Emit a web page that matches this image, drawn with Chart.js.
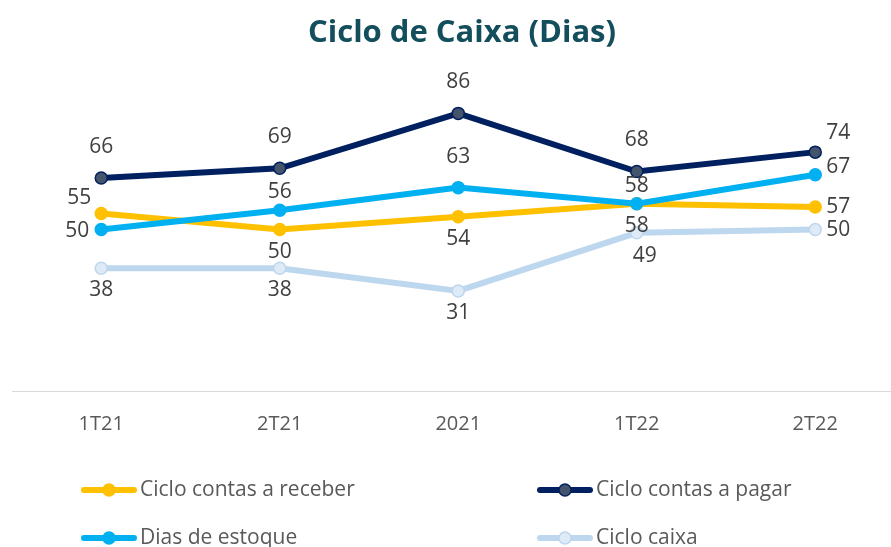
<!DOCTYPE html>
<html lang="pt">
<head>
    <script src="https://cdn.jsdelivr.net/npm/chart.js"></script>
    <style>
        body { margin: 0; background: #fff; overflow: hidden; }
        #wrap { width: 912px; height: 547px; }
    </style>
</head>
<body>

    <div id="wrap"><canvas id="cicloChart" width="912" height="547"></canvas></div>

    <script>
        // Data
        const periods = ["1T21", "2T21", "2021", "1T22", "2T22"];
        const contasReceber = [55, 50, 54, 58, 57];
        const contasPagar = [66, 69, 86, 68, 74];
        const diasEstoque = [50, 56, 63, 58, 67];
        const cicloCaixa = [38, 38, 31, 49, 50];

        const FONT = "'Open Sans', 'Noto Sans', sans-serif";

        // label placement codes -> [dx, dy, align]
        const placements = {
            a:  [0, -31, 'center'],
            as: [0, -18, 'center'],
            b:  [0, 22, 'center'],
            br: [8, 23, 'center'],
            l:  [-12, 1, 'right'],
            la: [-10, -15, 'right'],
            r:  [11, 0, 'left'],
            rs: [11, -8, 'left'],
            ra: [11, -19, 'left']
        };

        // Draws the value labels next to each point
        const valueLabels = {
            id: 'valueLabels',
            afterDatasetsDraw(chart) {
                const c = chart.ctx;
                c.save();
                c.font = "21px " + FONT;
                c.fillStyle = "#404040";
                c.textBaseline = "middle";
                chart.data.datasets.forEach((ds, i) => {
                    const meta = chart.getDatasetMeta(i);
                    meta.data.forEach((pt, j) => {
                        const p = placements[ds.labelAt[j]];
                        c.textAlign = p[2];
                        c.fillText(ds.data[j], pt.x + p[0], pt.y + p[1]);
                    });
                });
                c.restore();
            }
        };

        // Two-column legend under the axis, like the Excel one
        const bottomLegend = {
            id: 'bottomLegend',
            afterDraw(chart) {
                const c = chart.ctx;
                const cols = [81, 537];
                const rows = [490, 538];
                c.save();
                c.font = "21px " + FONT;
                c.textBaseline = "middle";
                c.textAlign = "left";
                chart.data.datasets.forEach((ds, i) => {
                    const x = cols[i % 2], y = rows[Math.floor(i / 2)];
                    c.strokeStyle = ds.borderColor;
                    c.lineWidth = 6;
                    c.lineCap = "round";
                    c.beginPath();
                    c.moveTo(x + 3, y);
                    c.lineTo(x + 53, y);
                    c.stroke();
                    c.beginPath();
                    c.arc(x + 28, y, 6, 0, Math.PI * 2);
                    c.fillStyle = ds.pointBackgroundColor;
                    c.fill();
                    c.lineWidth = 1.5;
                    c.strokeStyle = ds.pointBorderColor;
                    c.stroke();
                    c.fillStyle = "#595959";
                    c.fillText(ds.label, x + 59, y);
                });
                c.restore();
            }
        };

        function series(label, values, line, fill, order, labelAt) {
            return {
                label: label,
                data: values,
                borderColor: line,
                backgroundColor: line,
                pointBackgroundColor: fill,
                pointBorderColor: line,
                pointBorderWidth: 1.5,
                pointRadius: 6,
                pointHoverRadius: 6,
                borderWidth: 6,
                borderCapStyle: 'round',
                tension: 0,
                order: order,
                labelAt: labelAt
            };
        }

        const ctx = document.getElementById('cicloChart').getContext('2d');

        new Chart(ctx, {
            type: 'line',
            data: {
                labels: periods,
                datasets: [
                    series("Ciclo contas a receber", contasReceber, "#FFC000", "#FFC000", 4, ['la', 'b', 'b', 'b', 'r']),
                    series("Ciclo contas a pagar", contasPagar, "#002060", "#44546A", 3, ['a', 'a', 'a', 'a', 'ra']),
                    series("Dias de estoque", diasEstoque, "#00B0F0", "#00B0F0", 2, ['l', 'as', 'a', 'as', 'rs']),
                    series("Ciclo caixa", cicloCaixa, "#BDD7EE", "#DEEBF7", 1, ['b', 'b', 'b', 'br', 'r'])
                ]
            },
            options: {
                responsive: false,
                animation: false,
                layout: { padding: { left: 12, right: 0, top: 0, bottom: 90 } },
                scales: {
                    y: { display: false, min: 0, max: 100 },
                    x: {
                        offset: true,
                        grid: { display: false, drawTicks: false },
                        border: { display: true, color: "#D9D9D9", width: 1 },
                        ticks: { color: "#595959", font: { family: FONT, size: 20 }, padding: 21 }
                    }
                },
                plugins: {
                    legend: { display: false },
                    tooltip: { enabled: false },
                    title: {
                        display: true,
                        text: "Ciclo de Caixa (Dias)",
                        color: "#124E5B",
                        font: { family: FONT, size: 31, weight: 'bold' },
                        padding: { top: 15, bottom: 16 }
                    }
                }
            },
            plugins: [valueLabels, bottomLegend]
        });
    </script>

</body>
</html>
